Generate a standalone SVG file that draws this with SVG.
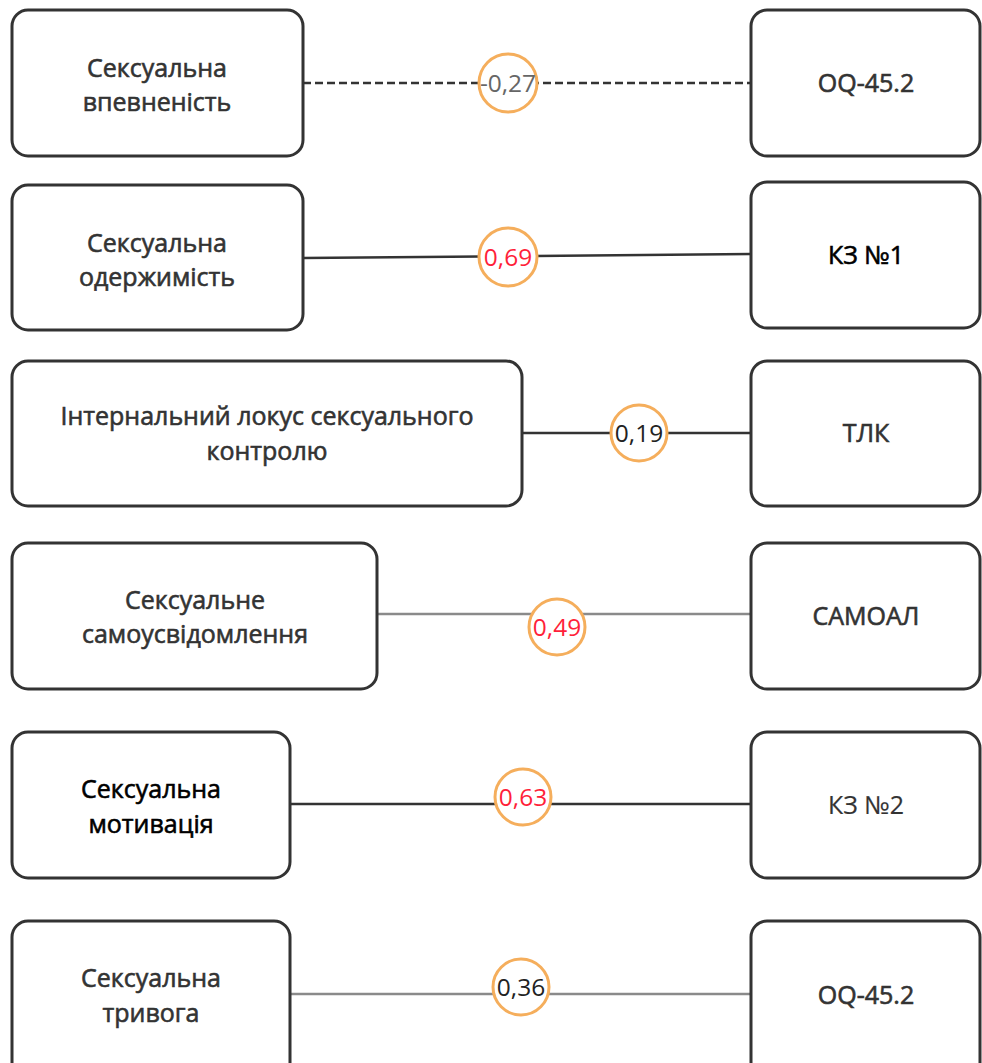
<svg xmlns="http://www.w3.org/2000/svg" width="982" height="1063" viewBox="0 0 982 1063">
<style>
.box{fill:#fff;stroke:#333;stroke-width:3}
.t{font-family:"Open Sans","Noto Sans",sans-serif;font-size:25px;font-weight:400;fill:#333;stroke:#333;stroke-width:0.6;text-anchor:middle}
.k{fill:#000;stroke:#000}
.c{fill:#fff;stroke:#f5ae5c;stroke-width:3}
.v{font-family:"Open Sans","Noto Sans",sans-serif;font-size:24.5px;text-anchor:middle}
.dk{stroke:#333;stroke-width:2.5;fill:none}
.gr{stroke:#8a8a8a;stroke-width:2.5;fill:none}
</style>
<g id="connectors">
<line class="dk" x1="303" y1="83" x2="751" y2="83" stroke-dasharray="8,4"/>
<line class="dk" x1="303" y1="258" x2="751" y2="254"/>
<line class="dk" x1="522" y1="433" x2="751" y2="433"/>
<line class="gr" x1="377" y1="614" x2="751" y2="614"/>
<line class="dk" x1="290" y1="804" x2="751" y2="804"/>
<line class="gr" x1="290" y1="994" x2="751" y2="994"/>
<circle class="c" cx="508" cy="83" r="29"/>
<text class="v" x="508" y="92" fill="#666">-0,27</text>
<circle class="c" cx="508" cy="257" r="29"/>
<text class="v" x="508" y="266" fill="#ff1f3a">0,69</text>
<circle class="c" cx="639" cy="433" r="28"/>
<text class="v" x="639" y="442" fill="#222">0,19</text>
<circle class="c" cx="557" cy="627" r="28"/>
<text class="v" x="557" y="636" fill="#ff1f3a">0,49</text>
<circle class="c" cx="523" cy="797" r="28"/>
<text class="v" x="523" y="806" fill="#ff1f3a">0,63</text>
<circle class="c" cx="521" cy="987" r="28"/>
<text class="v" x="521" y="996" fill="#222">0,36</text>
</g>
<g id="n1"><rect class="box" x="12" y="10" width="291" height="146" rx="16"/><text class="t" x="157" y="77">Сексуальна</text><text class="t" x="157" y="111">впевненість</text></g>
<g id="n2"><rect class="box" x="751" y="10" width="229" height="146" rx="16"/><text class="t" x="866" y="92">OQ-45.2</text></g>
<g id="n3"><rect class="box" x="12" y="185" width="291" height="145" rx="16"/><text class="t" x="157" y="252">Сексуальна</text><text class="t" x="157" y="286">одержимість</text></g>
<g id="n4"><rect class="box" x="751" y="182" width="229" height="146" rx="16"/><text class="t k" x="866" y="264">КЗ №1</text></g>
<g id="n5"><rect class="box" x="12" y="361" width="510" height="145" rx="16"/><text class="t" x="267" y="425">Інтернальний локус сексуального</text><text class="t" x="267" y="460">контролю</text></g>
<g id="n6"><rect class="box" x="751" y="361" width="229" height="145" rx="16"/><text class="t" x="866" y="442">ТЛК</text></g>
<g id="n7"><rect class="box" x="12" y="543" width="365" height="146" rx="16"/><text class="t" x="195" y="609">Сексуальне</text><text class="t" x="195" y="643">самоусвідомлення</text></g>
<g id="n8"><rect class="box" x="751" y="543" width="229" height="146" rx="16"/><text class="t" x="866" y="625">САМОАЛ</text></g>
<g id="n9"><rect class="box" x="12" y="732" width="278" height="146" rx="16"/><text class="t k" x="151" y="798">Сексуальна</text><text class="t k" x="151" y="833">мотивація</text></g>
<g id="n10"><rect class="box" x="751" y="732" width="229" height="146" rx="16"/><text class="t" x="866" y="814" style="stroke-width:0.2">КЗ №2</text></g>
<g id="n11"><rect class="box" x="12" y="921" width="278" height="160" rx="16"/><text class="t" x="151" y="987">Сексуальна</text><text class="t" x="151" y="1022">тривога</text></g>
<g id="n12"><rect class="box" x="751" y="921" width="229" height="160" rx="16"/><text class="t" x="866" y="1004">OQ-45.2</text></g>
</svg>
